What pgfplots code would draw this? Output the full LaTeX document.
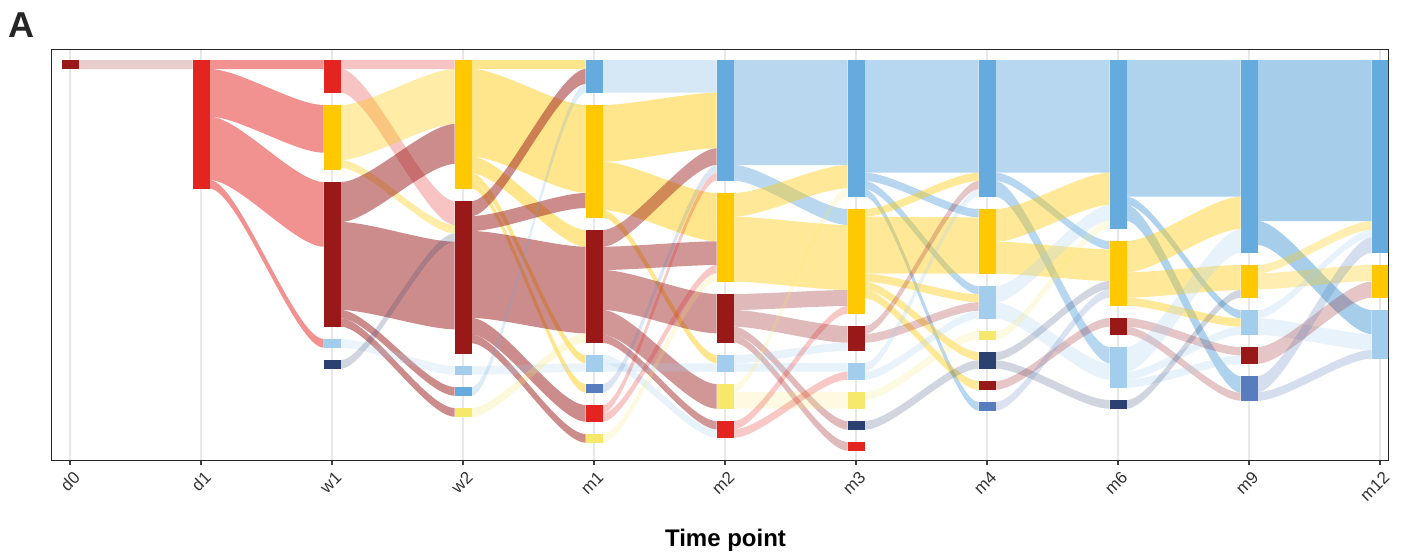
\documentclass[border=0pt]{standalone}
\usepackage{pgfplots}
\usepackage{pgfplotstable}
\pgfplotsset{compat=1.18}
\usepackage{fontspec}
\setmainfont{Liberation Sans}
\definecolor{dred}{HTML}{991919}
\definecolor{red}{HTML}{E32421}
\definecolor{yel}{HTML}{FFC800}
\definecolor{lyel}{HTML}{F5E86B}
\definecolor{blue}{HTML}{66ABDD}
\definecolor{lblue}{HTML}{A3CDEC}
\definecolor{mblue}{HTML}{577DBE}
\definecolor{navy}{HTML}{2B4270}

% strata: time index, top, bottom (in panel pixel units, downward), colour
\pgfplotstableread{
x top bot col
0 60 69 dred
1 60 188.7 red
2 60 92.7 red
2 105 169.7 yel
2 182 326.7 dred
2 339 347.7 lblue
2 360 368.7 navy
3 60 188.7 yel
3 201 353.7 dred
3 366 374.7 lblue
3 387 395.7 blue
3 408 416.7 lyel
4 60 92.7 blue
4 105 217.7 yel
4 230 342.7 dred
4 355 371.7 lblue
4 384 392.7 mblue
4 405 421.7 red
4 434 442.7 lyel
5 60 180.7 blue
5 193 281.7 yel
5 294 342.7 dred
5 355 371.7 lblue
5 384 408.7 lyel
5 421 437.7 red
6 60 196.7 blue
6 209 313.7 yel
6 326 350.7 dred
6 363 379.7 lblue
6 392 408.7 lyel
6 421 429.7 navy
6 442 450.7 red
7 60 196.7 blue
7 209 273.7 yel
7 286 318.7 lblue
7 331 339.7 lyel
7 352 368.7 navy
7 381 389.7 dred
7 402 410.7 mblue
8 60 228.7 blue
8 241 305.7 yel
8 318 334.7 dred
8 347 387.7 lblue
8 400 408.7 navy
9 60 252.7 blue
9 265 297.7 yel
9 310 334.7 lblue
9 347 363.7 dred
9 376 400.7 mblue
10 60 252.7 blue
10 265 297.7 yel
10 310 358.7 lblue
}\nodetab

% flows: source time index, source top/bottom, target top/bottom, colour, opacity
\pgfplotstableread{
x st sb tt tb col op
0 60 69 60 69 dred 0.22
1 60 69 60 69 red 0.5
1 69 116.7 105 152.7 red 0.5
1 116.7 180 182 246.7 red 0.5
1 180 188.7 339 347.7 red 0.5
2 60 69 60 69 red 0.27
2 69 92.7 201 225 red 0.27
2 105 160 69 124 yel 0.35
2 160 168 225 233.3 yel 0.35
2 182 222 124 164 dred 0.5
2 222 310 241.7 329.3 dred 0.5
2 310 318.3 387 395.7 dred 0.5
2 318.3 326.7 408 416.7 dred 0.5
2 339 347.7 366 374.7 lblue 0.22
2 360 368.7 233.3 241.7 navy 0.22
3 60 69 60 69 yel 0.45
3 69 156.7 105 192.7 yel 0.45
3 156.7 173.3 230 246.7 yel 0.45
3 173.3 181.7 355 363.3 yel 0.45
3 181.7 188.7 384 392.7 yel 0.45
3 201 216 69 84 dred 0.5
3 216 231 193 208 dred 0.5
3 231 318 246.7 333.3 dred 0.5
3 318 334.7 405 421.7 dred 0.5
3 334.7 343.3 434 442.7 dred 0.5
3 366 374.7 363.3 371.7 lblue 0.22
3 387 395.7 84 92.7 blue 0.22
3 408 416.7 333.3 342.7 lyel 0.25
4 60 92.7 60 92.7 blue 0.27
4 105 161.7 92.7 148.3 yel 0.45
4 161.7 210 193 241.3 yel 0.45
4 210 217.7 355 363.3 yel 0.45
4 230 246.7 148.3 165 dred 0.45
4 246.7 270 241.3 265 dred 0.45
4 270 310 294 333.3 dred 0.45
4 310 335 384 408.7 dred 0.45
4 335 343 421 429.3 dred 0.45
4 355 363.3 429.3 437.7 lblue 0.25
4 363.3 371.7 363.3 371.7 lblue 0.25
4 384 392.7 165 173.3 mblue 0.2
4 405 413.3 173.3 180.7 red 0.25
4 413.3 421.7 265 273.3 red 0.25
4 434 442.7 273.3 281.7 lyel 0.2
5 60 165 60 165 blue 0.46
5 165 180.7 209 225 blue 0.46
5 193 216.7 165 188.3 yel 0.4
5 216.7 281.7 225 290 yel 0.4
5 294 310 290 306 dred 0.3
5 310 326.7 326 342.7 dred 0.3
5 326.7 335 421 429.7 dred 0.3
5 335 342.7 442 450.7 dred 0.3
5 355 363.3 342.7 350.7 lblue 0.25
5 363.3 371.7 363 371.7 lblue 0.25
5 384 392 188.3 196.7 lyel 0.2
5 392 408.7 392 408.7 lyel 0.2
5 421 429.3 306 313.7 red 0.25
5 429.3 437.7 371.7 379.7 red 0.25
6 60 172.7 60 172.7 blue 0.48
6 172.7 181 209 217.3 blue 0.48
6 181 189.3 286 294.3 blue 0.48
6 189.3 196.7 402 410.7 blue 0.48
6 209 216.7 172.7 181 yel 0.4
6 216.7 273.7 217.3 273.7 yel 0.4
6 273.7 281.7 294.3 302.3 yel 0.4
6 281.7 290 352 360.3 yel 0.4
6 290 298.3 381 389.7 yel 0.4
6 326 334 181 189.3 dred 0.25
6 334 342.7 302.3 310.7 dred 0.25
6 363 371.7 189.3 196.7 lblue 0.25
6 371.7 379.7 310.7 318.7 lblue 0.25
6 392 400 331 339.7 lyel 0.2
6 421 429.7 360.3 368.7 navy 0.22
7 60 172.7 60 172.7 blue 0.48
7 172.7 181 241 249.3 blue 0.48
7 181 196.7 347 363.3 blue 0.48
7 209 241.7 172.7 205 yel 0.4
7 241.7 273.7 249.3 281 yel 0.4
7 286 302.3 205 220.7 lblue 0.25
7 302.3 318.7 363.3 379.7 lblue 0.25
7 331 339.7 220.7 228.7 lyel 0.2
7 352 360.3 281 289.3 navy 0.22
7 360.3 368.7 400 408.7 navy 0.22
7 381 389.7 318 326.7 dred 0.25
7 402 410.7 289.3 297.7 mblue 0.22
8 60 196.7 60 196.7 blue 0.52
8 196.7 205 310 318.3 blue 0.52
8 205 221 376 392.7 blue 0.52
8 241 272.3 196.7 229 yel 0.4
8 272.3 297.7 265 290 yel 0.4
8 297.7 305.7 318.3 326.7 yel 0.4
8 318 326.7 347 355.3 dred 0.25
8 326.7 334.7 392.7 400.7 dred 0.25
8 347 371.7 229 252.7 lblue 0.25
8 371.7 379.7 326.7 334.7 lblue 0.25
8 379.7 387.7 355.3 363.7 lblue 0.25
8 400 408.7 290 297.7 navy 0.22
9 60 221 60 221 blue 0.58
9 221 245 310 334 blue 0.58
9 265 273.3 221 230 yel 0.3
9 273.3 289.3 265 281 yel 0.3
9 310 318.3 230 237.3 lblue 0.25
9 318.3 334.7 334 350 lblue 0.25
9 347 363.7 281.7 297.7 dred 0.25
9 376 392 237.3 252.7 mblue 0.25
9 392 400.7 350 358.7 mblue 0.25
}\flowtab

\begin{document}
\begin{tikzpicture}
\begin{axis}[
  scale only axis, width=668.5pt, height=205.5pt,
  xmin=-0.147, xmax=10.061, ymin=49, ymax=460, y dir=reverse,
  xtick={0,...,10}, xticklabels={d0,d1,w1,w2,m1,m2,m3,m4,m6,m9,m12},
  ytick=\empty,
  xtick pos=bottom, tick align=outside, major tick length=2.5pt,
  xmajorgrids, grid style={color=black!9, line width=1.1pt},
  axis line style={line width=0.5pt, color=black!85},
  tick style={line width=0.8pt, color=black!75},
  xticklabel style={font=\fontsize{8.5}{10}\selectfont, text=black!80, rotate=45, anchor=north east, inner sep=1pt, yshift=-1.5pt},
  xlabel={Time point},
  xlabel style={font=\fontsize{12}{14}\selectfont\bfseries, at={(axis description cs:0.5,0)}, anchor=center, yshift=-40pt, xshift=3pt},
]
\pgfplotstablegetrowsof{\flowtab}
\pgfmathtruncatemacro{\nf}{\pgfplotsretval-1}
\pgfplotsforeachungrouped \i in {0,...,\nf}{%
  \pgfplotstablegetelem{\i}{x}\of\flowtab \let\fx\pgfplotsretval
  \pgfplotstablegetelem{\i}{st}\of\flowtab \let\fst\pgfplotsretval
  \pgfplotstablegetelem{\i}{sb}\of\flowtab \let\fsb\pgfplotsretval
  \pgfplotstablegetelem{\i}{tt}\of\flowtab \let\ftt\pgfplotsretval
  \pgfplotstablegetelem{\i}{tb}\of\flowtab \let\ftb\pgfplotsretval
  \pgfplotstablegetelem{\i}{col}\of\flowtab \let\fc\pgfplotsretval
  \pgfplotstablegetelem{\i}{op}\of\flowtab \let\fo\pgfplotsretval
  \pgfmathsetmacro\xa{\fx+0.065}%
  \pgfmathsetmacro\xb{\fx+0.935}%
  \pgfmathsetmacro\xc{\fx+0.2825}%
  \pgfmathsetmacro\xd{\fx+0.7175}%
  \edef\temp{\noexpand\fill[fill=\fc, fill opacity=\fo] (axis cs:\xa,\fst) .. controls (axis cs:\xc,\fst) and (axis cs:\xd,\ftt) .. (axis cs:\xb,\ftt) -- (axis cs:\xb,\ftb) .. controls (axis cs:\xd,\ftb) and (axis cs:\xc,\fsb) .. (axis cs:\xa,\fsb) -- cycle;}%
  \temp
}
\pgfplotstablegetrowsof{\nodetab}
\pgfmathtruncatemacro{\nn}{\pgfplotsretval-1}
\pgfplotsforeachungrouped \i in {0,...,\nn}{%
  \pgfplotstablegetelem{\i}{x}\of\nodetab \let\nx\pgfplotsretval
  \pgfplotstablegetelem{\i}{top}\of\nodetab \let\nt\pgfplotsretval
  \pgfplotstablegetelem{\i}{bot}\of\nodetab \let\nb\pgfplotsretval
  \pgfplotstablegetelem{\i}{col}\of\nodetab \let\nc\pgfplotsretval
  \pgfmathsetmacro\xl{\nx-0.065}%
  \pgfmathsetmacro\xr{\nx+0.065}%
  \edef\temp{\noexpand\fill[fill=\nc] (axis cs:\xl,\nt) rectangle (axis cs:\xr,\nb);}%
  \temp
}
\end{axis}
\node[font=\fontsize{18}{20}\selectfont\bfseries, text=black!85] at ([xshift=-15pt,yshift=12pt]current axis.north west) {A};
\path[use as bounding box] ([xshift=-25.5pt,yshift=-49pt]current axis.south west) rectangle ([xshift=681pt,yshift=230pt]current axis.south west);
\end{tikzpicture}
\end{document}
